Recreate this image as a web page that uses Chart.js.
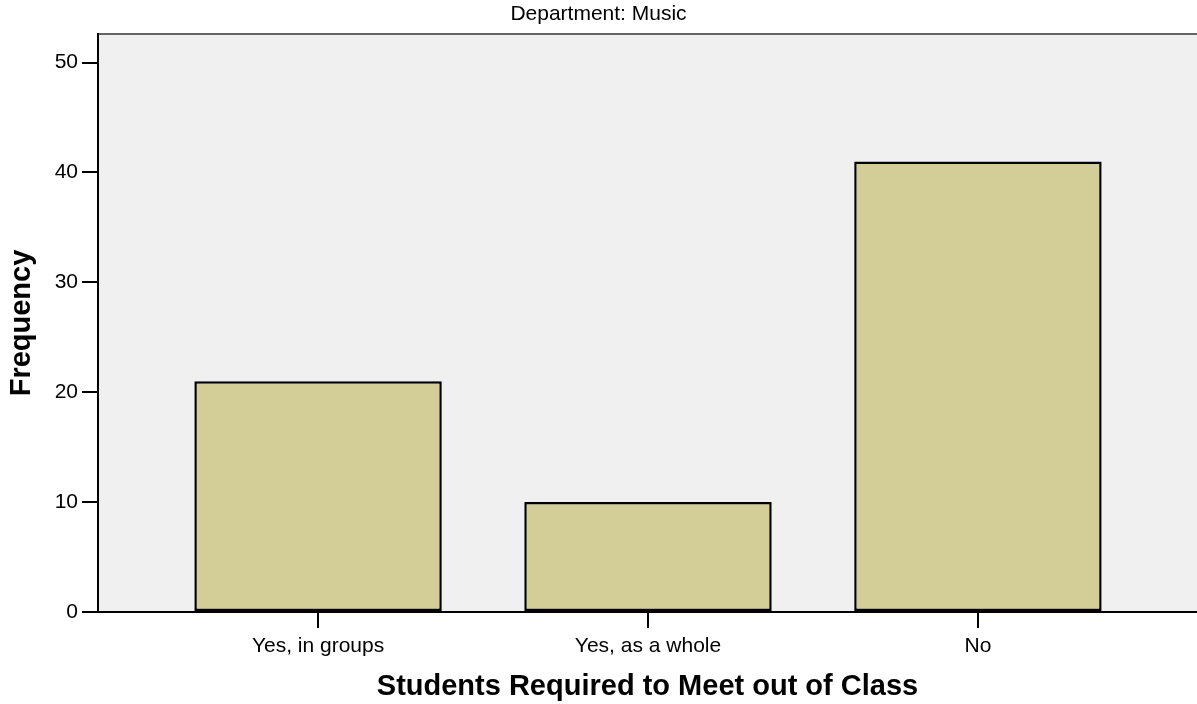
<!DOCTYPE html>
<html><head><meta charset="utf-8">
<script src="https://cdn.jsdelivr.net/npm/chart.js@4"></script>
<style>html,body{margin:0;padding:0;background:#fff;overflow:hidden;} #wrap{width:1197px;height:704px;position:relative;}</style>
</head><body><div id="wrap"><canvas id="c" width="1197" height="704"></canvas></div>
<script>
const chartTitle = 'Department: Music';
const categories = ['Yes, in groups', 'Yes, as a whole', 'No'];
const frequencies = [21, 10, 41];
const yTicks = [0, 10, 20, 30, 40, 50];
const yMax = 52.6;
const xAxisTitle = 'Students Required to Meet out of Class';
const yAxisTitle = 'Frequency';

const FONT = "'Liberation Sans', Arial, Helvetica, sans-serif";

const plotBg = {
  id: 'plotBg',
  beforeDraw(chart) {
    const {ctx, chartArea: a} = chart;
    ctx.save();
    ctx.fillStyle = '#f0f0f0';
    ctx.fillRect(a.left, a.top, a.right - a.left, a.bottom - a.top);
    ctx.strokeStyle = '#333333';
    ctx.lineWidth = 1.5;
    ctx.beginPath();
    ctx.moveTo(a.left, a.top);
    ctx.lineTo(a.right, a.top);
    ctx.stroke();
    ctx.restore();
  }
};

new Chart(document.getElementById('c'), {
  type: 'bar',
  data: {
    datasets: [{
      data: categories.map((c, i) => ({x: i, y: frequencies[i]})),
      backgroundColor: '#d3ce97',
      borderColor: '#000000',
      borderWidth: 2.5,
      borderSkipped: false,
      categoryPercentage: 1,
      barPercentage: 0.75
    }]
  },
  options: {
    responsive: false,
    animation: false,
    devicePixelRatio: 1,
    layout: {padding: 0},
    plugins: {
      legend: {display: false},
      tooltip: {enabled: false},
      title: {
        display: true,
        text: chartTitle,
        color: '#000',
        font: {family: FONT, size: 21, weight: 'normal', lineHeight: 1.2},
        padding: {top: 2, bottom: 6.8}
      }
    },
    scales: {
      x: {
        type: 'linear',
        min: -0.667,
        max: 2.664,
        offset: false,
        afterFit(s) { s.height = 92; },
        afterBuildTicks(s) { s.ticks = categories.map((c, i) => ({value: i})); },
        ticks: {
          autoSkip: false,
          maxRotation: 0,
          padding: 6,
          color: '#000',
          font: {family: FONT, size: 21},
          callback: (v) => categories[v] !== undefined ? categories[v] : ''
        },
        grid: {
          offset: false,
          drawOnChartArea: false,
          drawTicks: true,
          tickLength: 16,
          color: '#000',
          lineWidth: 2
        },
        border: {display: true, color: '#000', width: 2},
        title: {
          display: true,
          text: xAxisTitle,
          color: '#000',
          font: {family: FONT, size: 29, weight: 'bold'},
          padding: {top: 0, bottom: 0}
        }
      },
      y: {
        type: 'linear',
        min: 0,
        max: yMax,
        afterFit(s) { s.width = 98; },
        afterBuildTicks(s) { s.ticks = yTicks.map(v => ({value: v})); },
        ticks: {
          padding: 4,
          color: '#000',
          font: {family: FONT, size: 21}
        },
        grid: {
          drawOnChartArea: false,
          drawTicks: true,
          tickLength: 16,
          color: '#000',
          lineWidth: 2
        },
        border: {display: true, color: '#000', width: 2},
        title: {
          display: true,
          text: yAxisTitle,
          color: '#000',
          font: {family: FONT, size: 29, weight: 'bold'},
          padding: {top: 5, bottom: 0}
        }
      }
    }
  },
  plugins: [plotBg]
});
</script>
</body></html>
